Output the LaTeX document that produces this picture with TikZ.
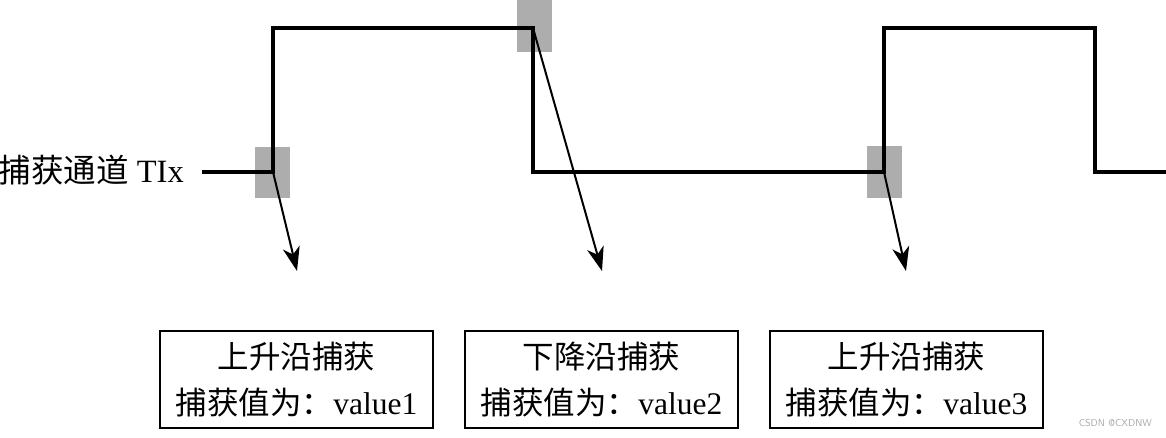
\documentclass[tikz,border=0pt]{standalone}
\usepackage{fontspec}
\setmainfont{Liberation Serif}
\newfontfamily\cjk{Noto Sans CJK SC}
\usetikzlibrary{arrows.meta}
\definecolor{mark}{HTML}{ADADAD}
\tikzset{
  wave/.style={line width=4pt, line join=miter},
  markbox/.style={fill=mark, draw=none},
  capt/.style={line width=2pt, -{Stealth[length=24pt,width=17pt,inset=7pt]}},
  infobox/.style={draw, line width=1.8pt, minimum width=273pt, minimum height=97pt, align=center, inner sep=0pt, font=\fontsize{31.5}{46}\selectfont},
}
\begin{document}
\begin{tikzpicture}[x=1pt,y=1pt]
\useasboundingbox (0,0) rectangle (1166,-438);
% highlight marks
\fill[markbox] (255,-147) rectangle (290,-198);
\fill[markbox] (517,0) rectangle (552,-52);
\fill[markbox] (867,-146) rectangle (902,-198);
% corners
\coordinate (c1) at (273,-172);
\coordinate (c2) at (533,-28);
\coordinate (c3) at (884,-172);
% waveform
\draw[wave] (202,-172) -- (c1) -- (273,-28) -- (c2) -- (533,-172) -- (c3) -- (884,-28) -- (1095,-28) -- (1095,-172) -- (1166,-172);
\node[anchor=east, inner sep=0pt, font=\fontsize{32.5}{38}\selectfont] (lbl) at (184,-170) {{\cjk 捕获通道} TIx};
% arrow tips
\coordinate (t1) at (297,-271);
\coordinate (t2) at (602,-271);
\coordinate (t3) at (906,-271);
\draw[capt] (c1) -- (t1);
\draw[capt] (c2) -- (t2);
\draw[capt] (c3) -- (t3);
% boxes
\node[infobox] (b1) at (296.5,-379.5) {{\cjk 上升沿捕获}\\{\cjk 捕获值为：}value1};
\node[infobox] (b2) at (601.5,-379.5) {{\cjk 下降沿捕获}\\{\cjk 捕获值为：}value2};
\node[infobox] (b3) at (906.5,-379.5) {{\cjk 上升沿捕获}\\{\cjk 捕获值为：}value3};
\node[anchor=east, inner sep=0pt, text=gray!70, font=\sffamily\fontsize{10}{11}\selectfont] (wm) at (1152,-423) {CSDN @CXDNW};
\end{tikzpicture}
\end{document}
